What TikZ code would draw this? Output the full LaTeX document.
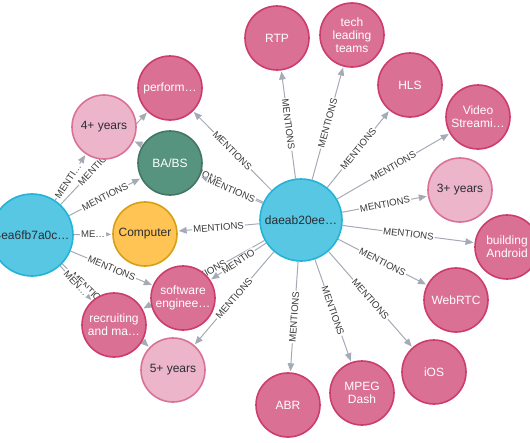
\documentclass[tikz,border=0pt]{standalone}
\usepackage{fontspec}
\setmainfont{Liberation Sans}
\usetikzlibrary{arrows.meta,backgrounds}
\definecolor{bluef}{HTML}{57C7E3}\definecolor{blued}{HTML}{23B3D7}
\definecolor{pinkf}{HTML}{DA7194}\definecolor{pinkd}{HTML}{CC3C6C}
\definecolor{lpinkf}{HTML}{ECB5C9}\definecolor{lpinkd}{HTML}{DA7298}
\definecolor{yelf}{HTML}{FFC454}\definecolor{yeld}{HTML}{D7A013}
\definecolor{grnf}{HTML}{569480}\definecolor{grnd}{HTML}{447666}
\definecolor{edgec}{HTML}{A5ABB6}\definecolor{labc}{HTML}{3A3A3A}
\definecolor{darktxt}{HTML}{2A2C34}
\tikzset{
  gnode/.style={circle, line width=1.6pt, minimum size=64pt, inner sep=0pt,
    align=center, font=\fontsize{12}{13}\selectfont},
  bignode/.style={gnode, minimum size=82pt, fill=bluef, draw=blued, text=darktxt},
  pinknode/.style={gnode, fill=pinkf, draw=pinkd, text=white},
  lpinknode/.style={gnode, fill=lpinkf, draw=lpinkd, text=darktxt},
  yelnode/.style={gnode, fill=yelf, draw=yeld, text=darktxt},
  grnnode/.style={gnode, fill=grnf, draw=grnd, text=white},
  rel/.style={draw=edgec, line width=1pt, -{Triangle[length=8pt,width=6.5pt]}, shorten >=1pt},
  lab/.style={sloped, fill=white, inner sep=1pt, text=labc,
    font=\fontsize{9.6}{10}\selectfont},
}
\begin{document}
\begin{tikzpicture}[x=1pt,y=-1pt]
\useasboundingbox (0,0) rectangle (530,442);
\clip (0,0) rectangle (530,442);
% nodes
\node[bignode] (L) at (32,235) {4ea6fb7a0c…};
\node[bignode] (C) at (301,220) {daeab20ee…};
\node[pinknode] (perf) at (170,88) {perform…};
\node[lpinknode] (four) at (104,127) {4+ years};
\node[grnnode] (babs) at (170,163) {BA/BS};
\node[yelnode] (comp) at (145,234) {Computer};
\node[pinknode] (soft) at (183,298) {software\\enginee…};
\node[pinknode] (recr) at (114,325) {recruiting\\and ma…};
\node[lpinknode] (five) at (173,370) {5+ years};
\node[pinknode] (rtp) at (277,38) {RTP};
\node[pinknode] (tech) at (352,35) {tech\\leading\\teams};
\node[pinknode] (hls) at (410,85) {HLS};
\node[pinknode] (video) at (478,117) {Video\\Streami…};
\node[lpinknode] (three) at (460,190) {3+ years};
\node[pinknode] (build) at (507,247) {building\\Android};
\node[pinknode] (webrtc) at (456,300) {WebRTC};
\node[pinknode] (ios) at (434,372) {iOS};
\node[pinknode] (mpeg) at (362,393) {MPEG\\Dash};
\node[pinknode] (abr) at (288,405) {ABR};
% edges
\begin{scope}[on background layer]
\draw[rel] (L) -- node[lab, pos=0.42] {MENTIONS} (perf);
\draw[rel] (L) -- node[lab, pos=0.42] {MENTI…} (four);
\draw[rel] (L) -- node[lab] {MENTIONS} (babs);
\draw[rel] (L) -- node[lab] {ME…} (comp);
\draw[rel] (L) -- node[lab] {MENTIONS} (soft);
\draw[rel] (L) -- node[lab, pos=0.33] {MENTIONS} (five);
\draw[rel] (L) -- node[lab] {MEN…} (recr);
\draw[rel] (C) -- node[lab] {MENTIONS} (perf);
\draw[rel] (C) -- node[lab] {MENTIONS} (four);
\draw[rel] (C) -- node[lab] {MENTIONS} (babs);
\draw[rel] (C) -- node[lab] {MENTIONS} (comp);
\draw[rel] (C) -- node[lab] {MENTIONS} (recr);
\draw[rel] (C) -- node[lab] {MENTIO} (soft);
\draw[rel] (C) -- node[lab] {MENTIONS} (five);
\draw[rel] (C) -- node[lab] {MENTIONS} (rtp);
\draw[rel] (C) -- node[lab] {MENTIONS} (tech);
\draw[rel] (C) -- node[lab] {MENTIONS} (hls);
\draw[rel] (C) -- node[lab] {MENTIONS} (video);
\draw[rel] (C) -- node[lab] {MENTIONS} (three);
\draw[rel] (C) -- node[lab] {MENTIONS} (build);
\draw[rel] (C) -- node[lab] {MENTIONS} (webrtc);
\draw[rel] (C) -- node[lab] {MENTIONS} (ios);
\draw[rel] (C) -- node[lab] {MENTIONS} (mpeg);
\draw[rel] (C) -- node[lab] {MENTIONS} (abr);
\end{scope}
\end{tikzpicture}
\end{document}
